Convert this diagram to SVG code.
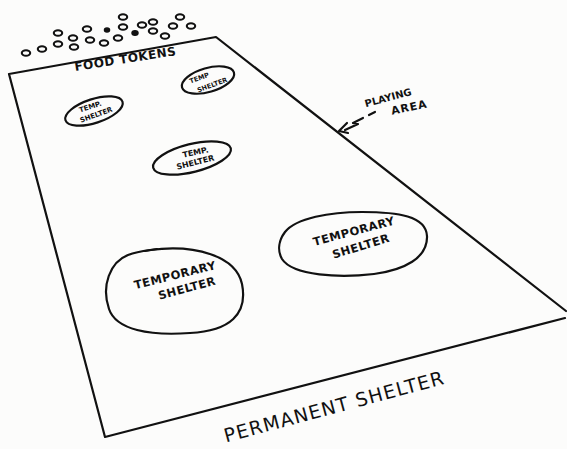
<svg xmlns="http://www.w3.org/2000/svg" width="567" height="449" viewBox="0 0 567 449">
<style>
.ln{fill:none;stroke:#111;stroke-width:2.2;stroke-linecap:round;stroke-linejoin:round}
.tk{fill:none;stroke:#111;stroke-width:2.1}
.tf{fill:#111;stroke:#111;stroke-width:1.5}
.t{font-family:"DejaVu Sans",sans-serif;font-weight:bold;fill:#111;text-anchor:middle}
.big{font-family:"DejaVu Sans",sans-serif;fill:#111;text-anchor:middle;font-size:19px;letter-spacing:1.2px}
</style>
<rect width="567" height="449" fill="#fcfcfb"/>
<g id="playing-area">
<path class="ln" d="M9,74 L216,37 L566,311 M565,318 L105,437 L9,74"/>
</g>
<g id="food-tokens">
<ellipse class="tk" cx="26" cy="53" rx="4.2" ry="2.8"/>
<ellipse class="tk" cx="42" cy="49" rx="4.2" ry="2.8"/>
<ellipse class="tk" cx="58" cy="44" rx="4.2" ry="2.8"/>
<ellipse class="tk" cx="58" cy="33" rx="4.2" ry="2.8"/>
<ellipse class="tk" cx="74" cy="47" rx="4.2" ry="2.8"/>
<ellipse class="tk" cx="73" cy="38" rx="4.2" ry="2.8"/>
<ellipse class="tk" cx="87" cy="29" rx="4.2" ry="2.8"/>
<ellipse class="tk" cx="90" cy="40" rx="4.2" ry="2.8"/>
<ellipse class="tk" cx="104" cy="43" rx="4.2" ry="2.8"/>
<ellipse class="tf" cx="107" cy="30" rx="2.5" ry="2"/>
<ellipse class="tk" cx="118" cy="38" rx="4.2" ry="2.8"/>
<ellipse class="tk" cx="123" cy="17" rx="4.2" ry="2.8"/>
<ellipse class="tk" cx="123" cy="27" rx="4.2" ry="2.8"/>
<ellipse class="tf" cx="135" cy="33" rx="3" ry="2.2"/>
<ellipse class="tk" cx="142" cy="25" rx="4.2" ry="2.8"/>
<ellipse class="tk" cx="153" cy="22" rx="4.2" ry="2.8"/>
<ellipse class="tk" cx="153" cy="31" rx="4.2" ry="2.8"/>
<ellipse class="tk" cx="165" cy="36" rx="4.2" ry="2.8"/>
<ellipse class="tk" cx="173" cy="26" rx="4.2" ry="2.8"/>
<ellipse class="tk" cx="180" cy="17" rx="4.2" ry="2.8"/>
<ellipse class="tk" cx="191" cy="26" rx="4.2" ry="2.8"/>
<text class="t" font-size="12" letter-spacing="0.5" transform="translate(126,63) rotate(-9)">FOOD TOKENS</text>
</g>
<g id="temp-shelter-1">
<ellipse class="ln" cx="208" cy="80" rx="27" ry="12" transform="rotate(-16 208 80)"/>
<text class="t" font-size="6.5" transform="translate(200,80) rotate(-20)">TEMP</text>
<text class="t" font-size="6.5" transform="translate(213,87) rotate(-20)">SHELTER</text>
</g>
<g id="temp-shelter-2">
<ellipse class="ln" cx="94" cy="111" rx="30" ry="12" transform="rotate(-18 94 111)"/>
<text class="t" font-size="7" transform="translate(91,109) rotate(-18)">TEMP.</text>
<text class="t" font-size="7" transform="translate(97,117) rotate(-20)">SHELTER</text>
</g>
<g id="temp-shelter-3">
<ellipse class="ln" cx="192" cy="158" rx="40" ry="14" transform="rotate(-14 192 158)"/>
<text class="t" font-size="8" transform="translate(196,155) rotate(-12)">TEMP.</text>
<text class="t" font-size="8" transform="translate(196,165) rotate(-14)">SHELTER</text>
</g>
<g id="temporary-shelter-right">
<path class="ln" d="M285,232 C296,218 330,212 362,212 C398,212 426,216 427,236 C428,258 404,270 374,274 C340,278 293,276 282,259 C277,250 279,240 285,232 Z"/>
<text class="t" font-size="11.5" letter-spacing="0.5" transform="translate(355,235) rotate(-15)">TEMPORARY</text>
<text class="t" font-size="11.5" letter-spacing="0.5" transform="translate(362,250) rotate(-17)">SHELTER</text>
</g>
<g id="temporary-shelter-left">
<path class="ln" d="M150,250 C195,244 236,256 242,284 C248,314 230,331 190,333 C150,336 116,330 109,309 C101,286 110,262 128,255 C136,252 143,251 150,250 Z"/>
<path class="ln" d="M145,251 L157,249"/>
<text class="t" font-size="11.5" letter-spacing="0.5" transform="translate(176,279) rotate(-14)">TEMPORARY</text>
<text class="t" font-size="11.5" letter-spacing="0.5" transform="translate(188,292) rotate(-15)">SHELTER</text>
</g>
<g id="connectors">
<path class="ln" d="M375,112 L369,115 M363,118 L353,123 L358,124 L345,130 M347,123 L339,131 L348,133" stroke-width="2"/>
</g>
<g id="playing-area-label">
<text class="t" font-size="10" transform="translate(389,101) rotate(-15)">PLAYING</text>
<text class="t" font-size="11" letter-spacing="1" transform="translate(410,111) rotate(-12)">AREA</text>
</g>
<g id="permanent-shelter">
<text class="big" transform="translate(336,413) rotate(-15)">PERMANENT SHELTER</text>
</g>
</svg>
